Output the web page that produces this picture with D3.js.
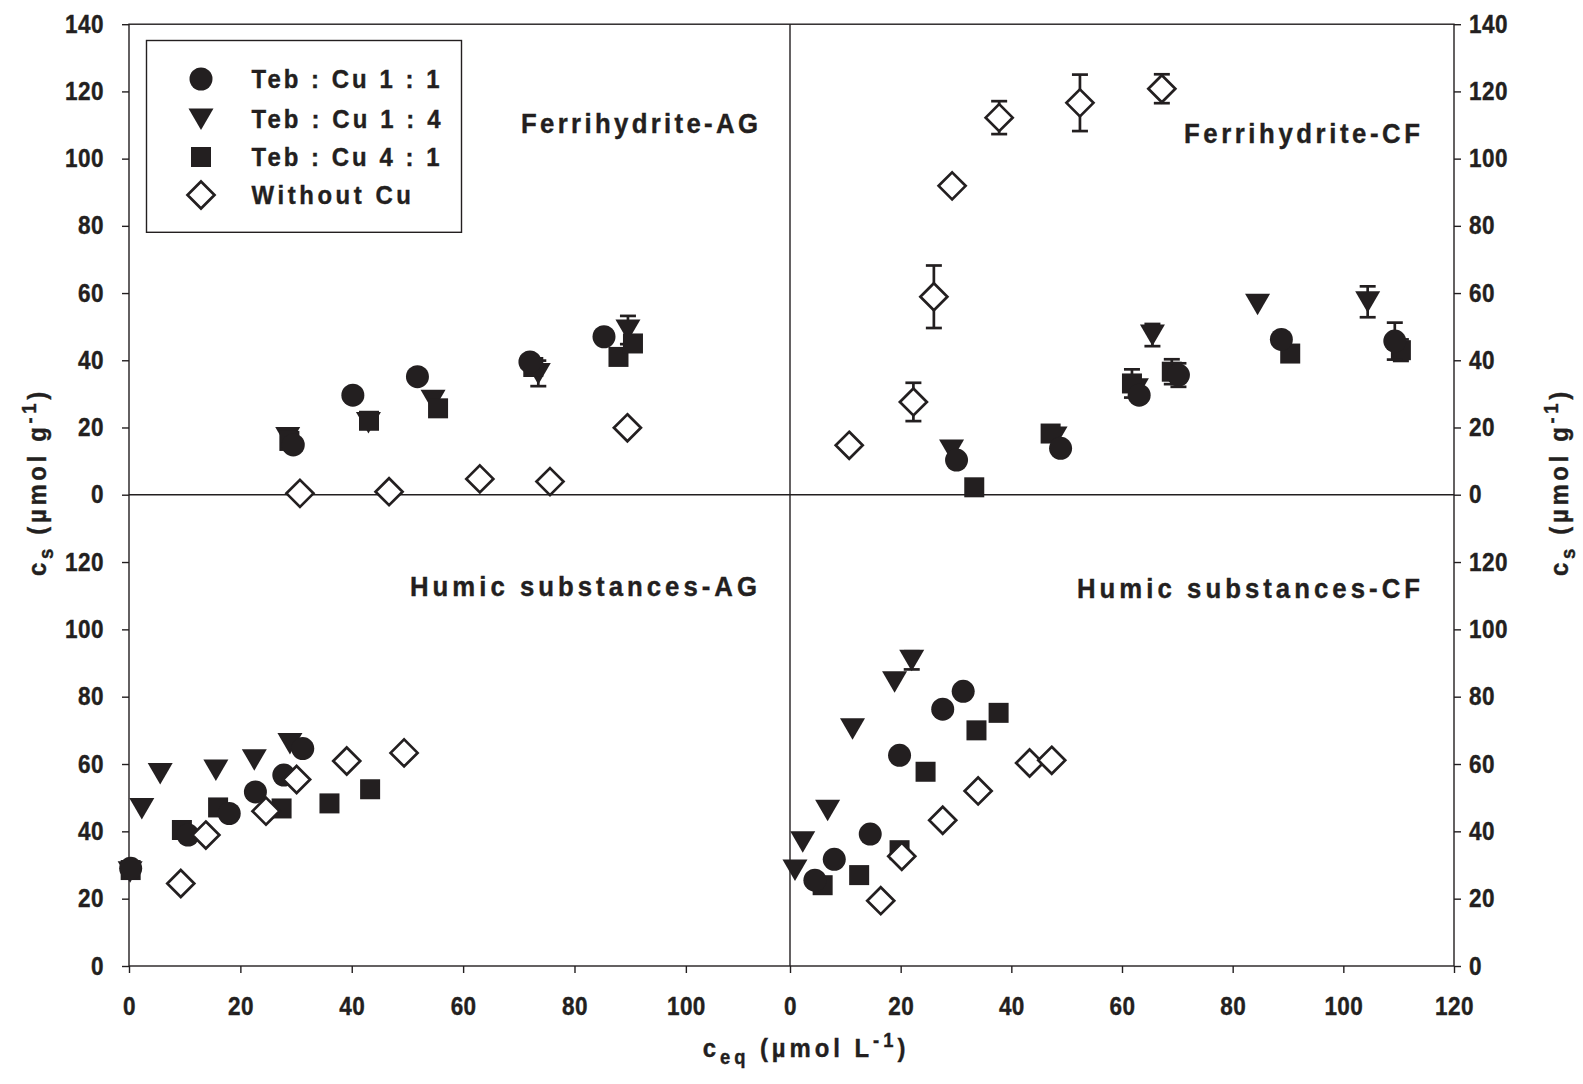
<!DOCTYPE html>
<html><head><meta charset="utf-8">
<script src="https://cdn.jsdelivr.net/npm/d3@7"></script>
<style>
body{margin:0;background:#fff;}
svg text{font-family:"Liberation Sans",Arial,sans-serif;font-weight:bold;fill:#231f20;stroke:#231f20;stroke-width:0.4px;}
.tick text{font-size:25px;letter-spacing:0.5px;}
.tick line{stroke:#231f20;stroke-width:1.4px;}
</style></head><body>
<svg id="c" width="1583" height="1084"></svg>
<script>
const seriesNames = ["Teb : Cu 1 : 1","Teb : Cu 1 : 4","Teb : Cu 4 : 1","Without Cu"];
const panelNames = ["Ferrihydrite-AG","Ferrihydrite-CF","Humic substances-AG","Humic substances-CF"];
const xTicksLeft = [0,20,40,60,80,100];
const xTicksRight = [0,20,40,60,80,100,120];
const yTicksTop = [0,20,40,60,80,100,120,140];
const yTicksBottom = [0,20,40,60,80,100,120];

// points: [Ceq, Cs, error]
const ferAG_11 = [[29.5,14.8],[40.2,29.6],[51.8,35.1],[72.0,39.5],[85.3,47.0]];
const ferAG_14 = [[28.5,17.0],[43.0,21.5],[54.6,28.1],[73.5,36.1,3.8],[89.6,49.0,4.2]];
const ferAG_41 = [[28.8,16.0],[43.1,22.0],[55.5,25.7],[72.6,38.0],[87.9,41.0],[90.5,45.0]];
const ferAG_0  = [[30.7,0.4],[46.7,0.9],[63.0,4.7],[75.6,3.9],[89.5,19.9]];

const ferCF_11 = [[30.1,10.3],[48.9,13.8],[63.1,29.6],[70.2,35.6,3.5],[88.8,46.2],[109.3,45.7,5.5]];
const ferCF_14 = [[29.2,13.3],[47.9,17.2],[62.6,31.5],[65.5,47.5,3.3],[84.5,56.7],[104.4,57.4,4.6]];
const ferCF_41 = [[33.3,2.2],[47.1,18.2],[61.8,33.1,4.2],[69.0,36.6,3.7],[90.4,42.0],[110.4,43.0,3.2]];
const ferCF_0  = [[10.7,14.7],[22.3,27.6,5.7],[26.0,58.9,9.3],[29.3,91.9],[37.8,112.2,4.9],[52.4,116.6,8.4],[67.2,120.8,4.3]];

const humAG_11 = [[0.3,29.0],[10.6,38.9],[18.0,45.3],[22.7,51.7],[27.8,56.7],[31.2,64.6]];
const humAG_14 = [[0.2,28.0],[2.3,46.8],[5.6,57.2],[15.6,58.2],[22.5,61.3],[28.9,66.1]];
const humAG_41 = [[0.3,28.5],[9.5,40.4],[16.0,47.1],[27.4,46.8],[36.0,48.3],[43.3,52.5]];
const humAG_0  = [[9.3,24.5],[13.8,38.9],[24.6,46.0],[30.1,55.4],[39.1,60.9],[49.4,63.3]];

const humCF_11 = [[4.5,25.5],[8.0,31.7],[14.5,39.2],[19.8,62.6],[27.6,76.3],[31.3,81.6]];
const humCF_14 = [[0.9,28.5],[2.3,36.9],[6.8,46.3],[11.3,70.5],[18.9,84.4],[22.0,90.8,2.7]];
const humCF_41 = [[5.9,24.0],[12.5,27.0],[19.8,34.4],[24.5,57.7],[33.7,70.0],[37.7,75.2]];
const humCF_0  = [[16.4,19.4],[20.2,32.6],[27.6,43.3],[34.0,52.0],[43.3,60.3],[47.3,61.1]];

const INK = "#231f20";
const SX = 0.9;   // tick lettering is a little narrow in the original
const SL = 0.92;  // labels and titles
const svg = d3.select("#c");
svg.append("rect").attr("width",1583).attr("height",1084).attr("fill","#fff");

const X0 = 129, XM = 790, X1 = 1454, Y0 = 24.2, YM = 494.7, Y1 = 966;
const xLeft = d3.scaleLinear().domain([0,118.7]).range([X0,XM]);
const xRight = d3.scaleLinear().domain([0,120]).range([XM,X1]);
const yTop = d3.scaleLinear().domain([0,140]).range([YM,Y0]);
const yBot = d3.scaleLinear().domain([0,140]).range([Y1,YM]);

function condense(sel, s){
  sel.each(function(){
    const t = d3.select(this);
    const x = +t.attr("x")||0, y = +t.attr("y")||0;
    t.attr("transform",`translate(${x},${y}) scale(${s},1) translate(${-x},${-y})`);
  });
}

// frame
const frame = svg.append("g").attr("stroke",INK).attr("stroke-width",1.4).attr("fill","none");
frame.append("rect").attr("x",X0).attr("y",Y0).attr("width",X1-X0).attr("height",Y1-Y0);
frame.append("line").attr("x1",X0).attr("x2",X1).attr("y1",YM).attr("y2",YM);
frame.append("line").attr("x1",XM).attr("x2",XM).attr("y1",Y0).attr("y2",Y1);

function styleAxis(g){
  g.select(".domain").remove();
  g.attr("font-size",null).attr("font-family",null);
  g.selectAll(".tick text").call(condense, SX);
}
svg.append("g").attr("transform",`translate(${X0},0)`).call(d3.axisLeft(yTop).tickValues(yTicksTop).tickSize(7).tickPadding(18).tickSizeOuter(0)).call(styleAxis);
svg.append("g").attr("transform",`translate(${X0},0)`).call(d3.axisLeft(yBot).tickValues(yTicksBottom).tickSize(7).tickPadding(18).tickSizeOuter(0)).call(styleAxis);
svg.append("g").attr("transform",`translate(${X1},0)`).call(d3.axisRight(yTop).tickValues(yTicksTop).tickSize(7).tickPadding(8).tickSizeOuter(0)).call(styleAxis);
svg.append("g").attr("transform",`translate(${X1},0)`).call(d3.axisRight(yBot).tickValues(yTicksBottom).tickSize(7).tickPadding(8).tickSizeOuter(0)).call(styleAxis);
svg.append("g").attr("transform",`translate(0,${Y1})`).call(d3.axisBottom(xLeft).tickValues(xTicksLeft).tickSize(7).tickPadding(24).tickSizeOuter(0)).call(styleAxis);
svg.append("g").attr("transform",`translate(0,${Y1})`).call(d3.axisBottom(xRight).tickValues(xTicksRight).tickSize(7).tickPadding(24).tickSizeOuter(0)).call(styleAxis);

// markers
const shapes = ["circle","triangle","square","diamond"];
function marker(g, shape, cx, cy){
  if(shape==="circle") g.append("circle").attr("cx",cx).attr("cy",cy).attr("r",11.5).attr("fill",INK);
  else if(shape==="triangle") g.append("path").attr("d",`M${cx-12.5},${cy-10.5}L${cx+12.5},${cy-10.5}L${cx},${cy+11}Z`).attr("fill",INK);
  else if(shape==="square") g.append("rect").attr("x",cx-10).attr("y",cy-10).attr("width",20).attr("height",20).attr("fill",INK);
  else g.append("path").attr("d",`M${cx},${cy-13.5}L${cx+13.5},${cy}L${cx},${cy+13.5}L${cx-13.5},${cy}Z`).attr("fill","#fff").attr("stroke",INK).attr("stroke-width",2.7);
}
const panels = [
  {x:xLeft, y:yTop, data:[ferAG_11,ferAG_14,ferAG_41,ferAG_0]},
  {x:xRight, y:yTop, data:[ferCF_11,ferCF_14,ferCF_41,ferCF_0]},
  {x:xLeft, y:yBot, data:[humAG_11,humAG_14,humAG_41,humAG_0]},
  {x:xRight, y:yBot, data:[humCF_11,humCF_14,humCF_41,humCF_0]}
];
const drawOrder = [1,2,0,3];
const gm = svg.append("g");
panels.forEach(p=>{
  drawOrder.forEach(si=>{
    p.data[si].forEach(d=>{
      const cx = p.x(d[0]), cy = p.y(d[1]);
      if(d[2]){
        const t = p.y(d[1]+d[2]), b = p.y(d[1]-d[2]);
        const e = gm.append("g").attr("stroke",INK).attr("stroke-width",2.7);
        e.append("line").attr("x1",cx).attr("x2",cx).attr("y1",t).attr("y2",b);
        e.append("line").attr("x1",cx-8).attr("x2",cx+8).attr("y1",t).attr("y2",t);
        e.append("line").attr("x1",cx-8).attr("x2",cx+8).attr("y1",b).attr("y2",b);
      }
      marker(gm, shapes[si], cx, cy);
    });
  });
});

// legend
const lg = svg.append("g");
lg.append("rect").attr("x",146.5).attr("y",40.5).attr("width",315).attr("height",191.8).attr("fill","#fff").attr("stroke",INK).attr("stroke-width",1.4);
const legRowY = [79,119,157,195];
const legTextW = [188,189,188,159.5];
seriesNames.forEach((n,i)=>{
  marker(lg, shapes[i], 201, legRowY[i]);
  lg.append("text").attr("x",251.5).attr("y",legRowY[i]+9.5).attr("font-size",26)
    .attr("textLength",legTextW[i]/SL).attr("lengthAdjust","spacing").text(n).call(condense, SL);
});

// panel labels
const panelLabelPos = [[521,133],[1184,143],[410,596],[1077,598]];
const panelLabelW = [237,236,347,343];
panelNames.forEach((n,i)=>{
  svg.append("text").attr("x",panelLabelPos[i][0]).attr("y",panelLabelPos[i][1]).attr("font-size",28)
    .attr("textLength",panelLabelW[i]/SL).attr("lengthAdjust","spacing").text(n).call(condense, SL);
});

// axis titles
function yTitle(x){
  const t = svg.append("text").attr("transform",`translate(${x},482) rotate(-90) scale(${SL},1)`).attr("text-anchor","middle").attr("font-size",26).attr("letter-spacing",4);
  t.append("tspan").text("c");
  t.append("tspan").attr("font-size",20).attr("dy",7).text("s");
  t.append("tspan").attr("dy",-7).text(" (\u00b5mol g");
  t.append("tspan").attr("font-size",20).attr("dy",-10).text("-1");
  t.append("tspan").attr("dy",10).text(")");
}
yTitle(46); yTitle(1568);
const xt = svg.append("text").attr("transform",`translate(806,1057) scale(${SL},1)`).attr("text-anchor","middle").attr("font-size",26).attr("letter-spacing",4.3);
xt.append("tspan").text("c");
xt.append("tspan").attr("font-size",20).attr("dy",7).text("eq");
xt.append("tspan").attr("dy",-7).text(" (\u00b5mol L");
xt.append("tspan").attr("font-size",20).attr("dy",-10).text("-1");
xt.append("tspan").attr("dy",10).text(")");
</script></body></html>
